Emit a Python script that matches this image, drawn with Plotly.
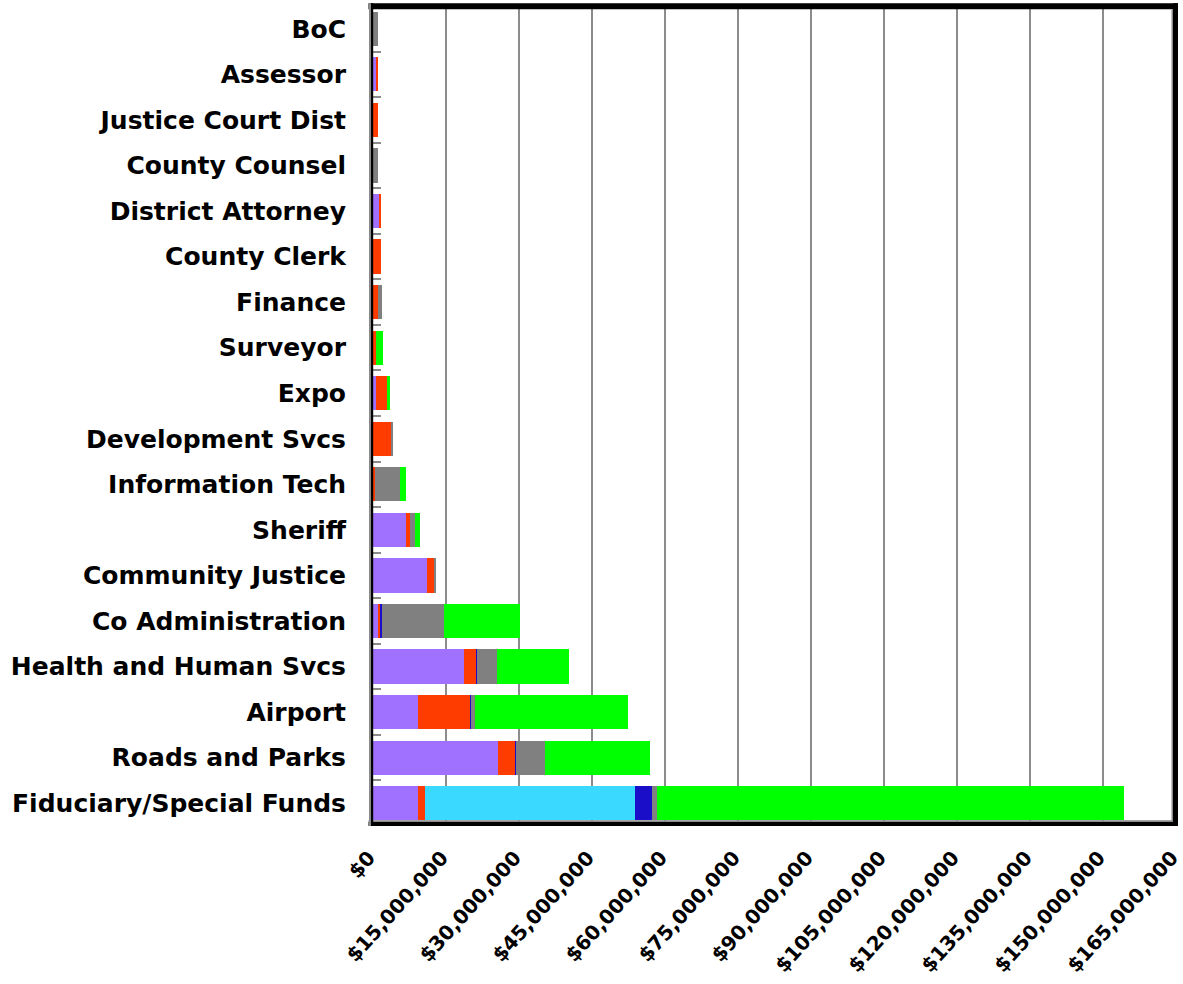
import plotly.graph_objects as go

# Departments, listed top to bottom
departments = [
    "BoC", "Assessor", "Justice Court Dist", "County Counsel", "District Attorney",
    "County Clerk", "Finance", "Surveyor", "Expo", "Development Svcs",
    "Information Tech", "Sheriff", "Community Justice", "Co Administration",
    "Health and Human Svcs", "Airport", "Roads and Parks", "Fiduciary/Special Funds",
]

# Budget components per department (dollars)
personnel = [0, 0.68e6, 0, 0, 1.36e6, 0, 0, 0, 0.53e6, 0,
             0, 6.84e6, 11.09e6, 1.03e6, 18.75e6, 9.16e6, 25.6e6, 9.16e6]
materials = [0, 0.27e6, 1.03e6, 0, 0.29e6, 1.56e6, 0.94e6, 0.62e6, 2.34e6, 3.9e6,
             0.47e6, 0.82e6, 1.5e6, 0.47e6, 2.46e6, 10.82e6, 3.64e6, 1.44e6]
transfers = [0, 0, 0, 0, 0, 0, 0, 0, 0, 0,
             0, 0, 0, 0, 0, 0, 0, 43.28e6]
debt_service = [0, 0, 0, 0, 0, 0, 0, 0, 0, 0,
                0, 0, 0, 0.35e6, 0.1e6, 0.2e6, 0.14e6, 3.49e6]
capital = [0.94e6, 0, 0, 1.03e6, 0, 0, 0.9e6, 0, 0, 0.21e6,
           5.13e6, 1.03e6, 0.41e6, 12.8e6, 4.17e6, 0.82e6, 6.02e6, 0.97e6]
reserves = [0, 0, 0, 0, 0, 0, 0, 1.44e6, 0.68e6, 0,
            1.23e6, 1.03e6, 0, 15.61e6, 14.79e6, 31.43e6, 21.57e6, 95.93e6]

# Dollar axis ticks
x_ticks = [0, 15e6, 30e6, 45e6, 60e6, 75e6, 90e6, 105e6, 120e6, 135e6, 150e6, 165e6]
x_tick_labels = ["$0", "$15,000,000", "$30,000,000", "$45,000,000", "$60,000,000",
                 "$75,000,000", "$90,000,000", "$105,000,000", "$120,000,000",
                 "$135,000,000", "$150,000,000", "$165,000,000"]

series = [
    ("Personnel Services", personnel, "#A070FF"),
    ("Materials & Services", materials, "#FF3C00"),
    ("Transfers", transfers, "#3AD9FF"),
    ("Debt Service", debt_service, "#1A0EC8"),
    ("Capital Outlay", capital, "#808080"),
    ("Contingency & Reserves", reserves, "#00FF00"),
]

fig = go.Figure()
for name, vals, color in series:
    fig.add_trace(go.Bar(
        y=departments, x=vals, name=name, orientation="h",
        marker=dict(color=color, line=dict(width=0)),
    ))

W, H = 1183, 984
L, R, T, B = 373, 7, 6, 158
pw, ph = W - L - R, H - T - B


def px(x):
    return (x - L) / pw


def py(y):
    return (H - B - y) / ph


def band(x0, x1, y0, y1, color):
    return dict(type="rect", xref="paper", yref="paper",
                x0=px(x0), x1=px(x1), y0=py(y1), y1=py(y0),
                fillcolor=color, line=dict(width=0), layer="above")


frame = [
    band(368.5, 1178, 3.3, 9.3, "#000000"),
    band(1171.5, 1173, 9.3, 822, "#8a8a8a"),
    band(1173, 1178, 3.3, 826, "#000000"),
    band(368.5, 1173, 820.3, 822, "#8a8a8a"),
    band(368.5, 1178, 822, 826, "#000000"),
    band(369, 371, 3.3, 826, "#8a8a8a"),
    band(371, 373.2, 3.3, 826, "#000000"),
]

fig.update_layout(
    barmode="stack",
    bargap=0.25,
    width=W, height=H,
    margin=dict(l=L, r=R, t=T, b=B, pad=0, autoexpand=False),
    paper_bgcolor="#ffffff",
    plot_bgcolor="#ffffff",
    showlegend=False,
    shapes=frame,
    xaxis=dict(
        range=[0, 165e6],
        automargin=False,
        tickmode="array", tickvals=x_ticks, ticktext=x_tick_labels,
        tickangle=-48,
        tickfont=dict(family="DejaVu Sans", size=20, color="#000000", weight="bold"),
        ticklabeloverflow="allow",
        ticklabelshift=-4,
        showgrid=True, gridcolor="#8c8c8c", gridwidth=1.5,
        zeroline=False, showline=False,
        ticks="inside", ticklen=5, tickcolor="#8c8c8c", tickwidth=1.5,
        ticklabelstandoff=15,
        fixedrange=True,
    ),
    yaxis=dict(
        autorange="reversed",
        automargin=False,
        tickfont=dict(family="DejaVu Sans", size=25, color="#000000", weight="bold"),
        showgrid=False, zeroline=False, showline=False,
        ticks="inside", tickson="boundaries", ticklen=8,
        tickcolor="#8c8c8c", tickwidth=2,
        ticklabelstandoff=26,
        fixedrange=True,
    ),
)

fig.write_html("out.html")
